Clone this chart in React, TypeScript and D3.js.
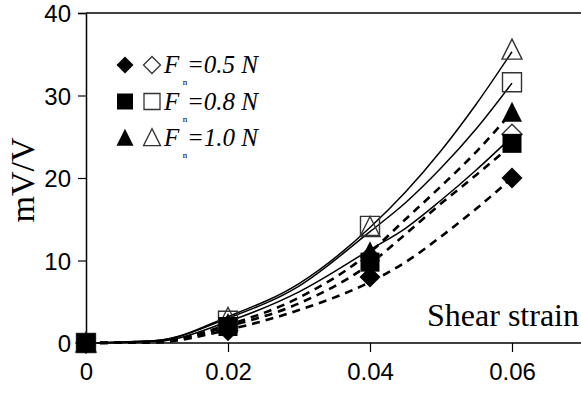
import { useEffect, useRef } from "react";
import * as d3 from "d3";

// marker strains
const strain = [0, 0.02, 0.04, 0.06];
// filled markers
const filled05 = [0, 1.5, 8.0, 20.0];
const filled08 = [0, 2.0, 9.8, 24.2];
const filled10 = [0, 2.3, 11.0, 27.9];
// open markers
const open05 = [0, 2.0, 10.5, 25.3];
const open08 = [0, 2.7, 14.2, 31.6];
const open10 = [0, 3.0, 14.0, 35.5];

// curves
const curveStrain = [0, 0.01, 0.02, 0.03, 0.04, 0.045, 0.05, 0.055, 0.06];
const solid10 = [0, 0.3, 3.2, 7.2, 14.0, 18.3, 23.3, 29.0, 35.3];
const solid08 = [0, 0.3, 3.0, 6.9, 13.5, 17.0, 21.2, 26.0, 31.5];
const solid05 = [0, 0.2, 2.6, 6.2, 11.3, 13.9, 17.3, 21.0, 25.0];
const dashed10 = [0, 0.2, 2.2, 5.5, 11.0, 15.0, 19.0, 23.2, 28.0];
const dashed08 = [0, 0.1, 2.0, 4.8, 9.6, 13.2, 16.9, 20.4, 24.0];
const dashed05 = [0, 0.1, 1.6, 4.0, 7.4, 9.8, 12.9, 16.3, 20.0];

const xTicks = [0, 0.02, 0.04, 0.06];
const xTickLabels = ["0", "0.02", "0.04", "0.06"];
const yTicks = [0, 10, 20, 30, 40];
const legendLabels = ["=0.5 N", "=0.8 N", "=1.0 N"];

// shape outline centred on 0,0
const shapePath = (shape: string, s: number) => {
  const h = s / 2;
  if (shape === "diamond") return `M0,${-h}L${h},0L0,${h}L${-h},0Z`;
  if (shape === "square") return `M${-h},${-h}H${h}V${h}H${-h}Z`;
  return `M0,${-h * 1.1}L${h},${h * 0.9}H${-h}Z`;
};

const Chart = () => {
  const ref = useRef<SVGSVGElement>(null);

  useEffect(() => {
    const width = 581;
    const height = 397;
    const svg = d3.select(ref.current).attr("width", width).attr("height", height);
    svg.selectAll("*").remove();

    const x = d3.scaleLinear().domain([0, 0.07]).range([86, 583]);
    const y = d3.scaleLinear().domain([0, 40]).range([343, 13]);

    // frame: top line and y axis
    svg.append("line").attr("x1", x(0)).attr("x2", width).attr("y1", y(40)).attr("y2", y(40))
      .attr("stroke", "#000").attr("stroke-width", 1.5);

    const yAxis = svg.append("g").attr("transform", `translate(${x(0)},0)`)
      .call(d3.axisLeft(y).tickValues(yTicks).tickSize(8).tickPadding(7).tickFormat(d3.format("d")));
    yAxis.select(".domain").attr("stroke-width", 1.5);
    yAxis.selectAll(".tick line").attr("stroke-width", 1.2);
    yAxis.selectAll(".tick text").attr("font-family", "'Liberation Sans', Arial, sans-serif")
      .attr("font-size", 24).attr("dy", "0.36em").attr("fill", "#000");

    const xAxis = svg.append("g").attr("transform", `translate(0,${y(0)})`)
      .call(d3.axisBottom(x).tickValues(xTicks).tickSize(9).tickSizeOuter(0).tickPadding(11)
        .tickFormat((d, i) => xTickLabels[i]));
    xAxis.select(".domain").attr("stroke-width", 1.5).attr("d", `M${x(0)},0H${width}`);
    xAxis.selectAll(".tick line").attr("stroke-width", 1.2);
    xAxis.selectAll(".tick text").attr("font-family", "'Liberation Sans', Arial, sans-serif")
      .attr("font-size", 24).attr("fill", "#000");

    // y label
    svg.append("text")
      .attr("transform", `translate(34,180) rotate(-90)`)
      .attr("text-anchor", "middle")
      .attr("font-family", "'Liberation Serif', 'Times New Roman', serif")
      .attr("font-size", 34)
      .text("mV/V");

    // x label inside the plot
    svg.append("text")
      .attr("x", 579).attr("y", 326)
      .attr("text-anchor", "end")
      .attr("font-family", "'Liberation Serif', 'Times New Roman', serif")
      .attr("font-size", 32)
      .text("Shear strain");

    // curves
    const line = d3.line<number>()
      .x((d, i) => x(curveStrain[i]))
      .y((d) => y(d))
      .curve(d3.curveMonotoneX);

    [solid10, solid08, solid05].forEach((s) => {
      svg.append("path").attr("d", line(s)).attr("fill", "none")
        .attr("stroke", "#000").attr("stroke-width", 1.5);
    });
    [dashed10, dashed08, dashed05].forEach((s) => {
      svg.append("path").attr("d", line(s)).attr("fill", "none")
        .attr("stroke", "#000").attr("stroke-width", 2.6).attr("stroke-dasharray", "8,6");
    });

    // markers: open first, filled on top
    const openSets = [
      { v: open05, shape: "diamond", s: 20 },
      { v: open08, shape: "square", s: 19 },
      { v: open10, shape: "triangle", s: 20 },
    ];
    const filledSets = [
      { v: filled05, shape: "diamond", s: 21 },
      { v: filled10, shape: "triangle", s: 20 },
      { v: filled08, shape: "square", s: 19 },
    ];
    openSets.forEach((set) => {
      svg.append("g").selectAll("path").data(set.v).join("path")
        .attr("transform", (d, i) => `translate(${x(strain[i])},${y(d)})`)
        .attr("d", shapePath(set.shape, set.s))
        .attr("fill", "none").attr("stroke", "#333").attr("stroke-width", 1.4);
    });
    filledSets.forEach((set) => {
      svg.append("g").selectAll("path").data(set.v).join("path")
        .attr("transform", (d, i) => `translate(${x(strain[i])},${y(d)})`)
        .attr("d", shapePath(set.shape, set.s))
        .attr("fill", "#000");
    });

    // legend
    const shapes = ["diamond", "square", "triangle"];
    const legend = svg.append("g");
    legendLabels.forEach((label, i) => {
      const cy = 65 + i * 36.5;
      const row = legend.append("g").attr("transform", `translate(0,${cy})`);
      row.append("path").attr("transform", "translate(125,0)")
        .attr("d", shapePath(shapes[i], shapes[i] === "square" ? 16 : 17)).attr("fill", "#000");
      row.append("path").attr("transform", "translate(152,0)")
        .attr("d", shapePath(shapes[i], shapes[i] === "square" ? 16 : 17))
        .attr("fill", "none").attr("stroke", "#333").attr("stroke-width", 1.3);
      row.append("text").attr("x", 164).attr("y", 8)
        .attr("font-family", "'Liberation Serif', 'Times New Roman', serif")
        .attr("font-style", "italic").attr("font-size", 25).text("F");
      row.append("text").attr("x", 185).attr("y", 20).attr("text-anchor", "middle")
        .attr("font-family", "'Liberation Serif', 'Times New Roman', serif")
        .attr("font-size", 9).attr("fill", "#000").text("n");
      row.append("text").attr("x", 187).attr("y", 8)
        .attr("font-family", "'Liberation Serif', 'Times New Roman', serif")
        .attr("font-style", "italic").attr("font-size", 25).text(label);
    });
  }, []);

  return <svg ref={ref} style={{ position: "absolute", left: 0, top: 0, background: "#fff" }} />;
};

export default function App() {
  return <Chart />;
}
